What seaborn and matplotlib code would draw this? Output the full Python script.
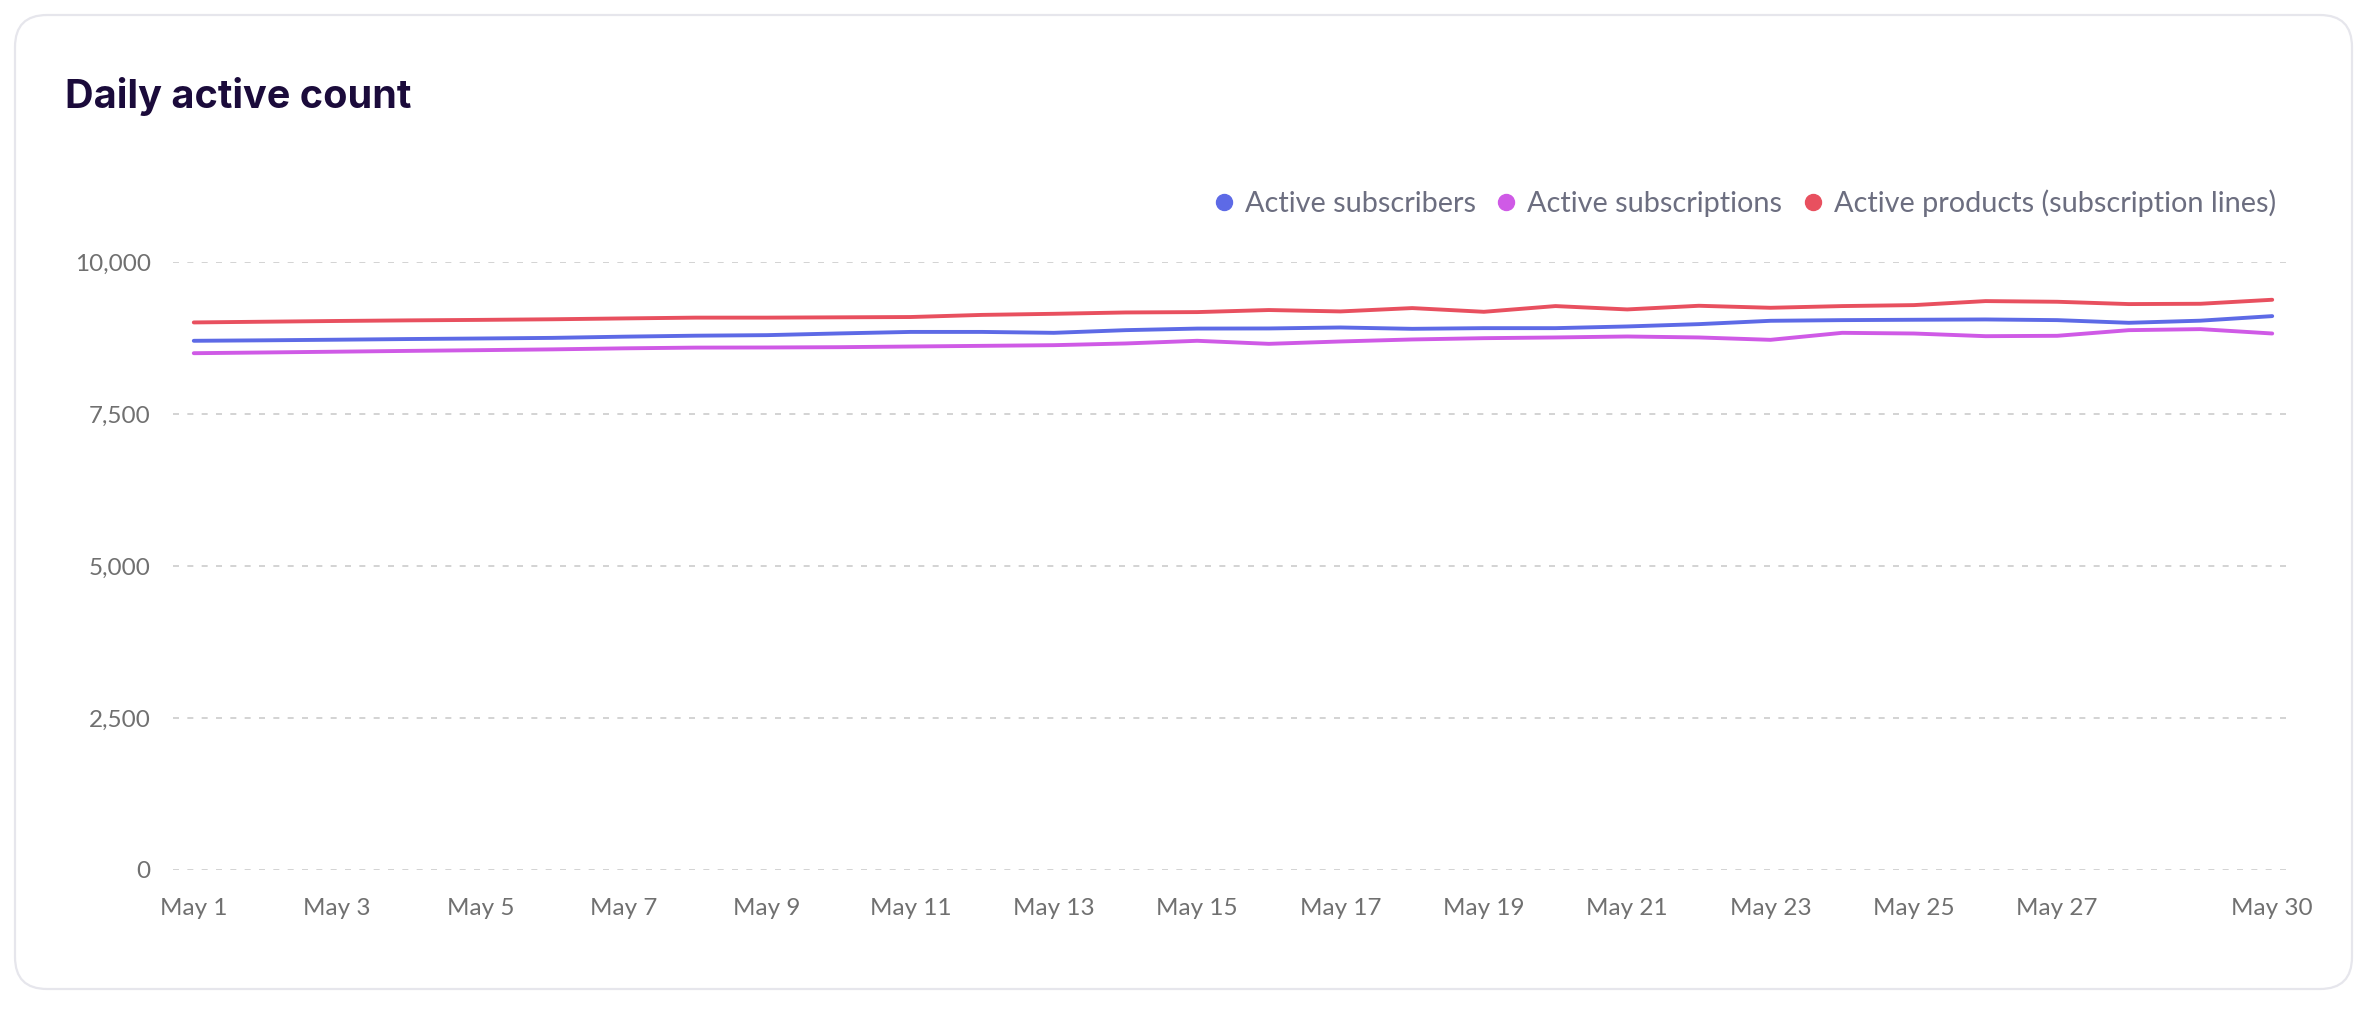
import numpy as np
import pandas as pd
import matplotlib
matplotlib.use("Agg")
import matplotlib.pyplot as plt
from matplotlib.lines import Line2D
from matplotlib.patches import FancyBboxPatch
import seaborn as sns

# data (May 1 .. May 30)
days = list(range(1, 31))
subscribers = [8704, 8712, 8722, 8733, 8742, 8752, 8772, 8788, 8797, 8825,
               8850, 8850, 8835, 8879, 8905, 8907, 8923, 8901, 8912, 8912,
               8940, 8978, 9033, 9044, 9050, 9055, 9044, 9000, 9035, 9110]
subscriptions = [8500, 8512, 8525, 8538, 8550, 8563, 8580, 8592, 8594, 8599,
                 8610, 8621, 8632, 8660, 8704, 8654, 8693, 8726, 8747, 8759,
                 8775, 8759, 8720, 8835, 8824, 8780, 8786, 8879, 8896, 8824]
products = [9006, 9018, 9030, 9040, 9048, 9058, 9072, 9085, 9085, 9090,
            9095, 9130, 9148, 9170, 9176, 9210, 9187, 9242, 9181, 9275,
            9220, 9280, 9247, 9275, 9291, 9357, 9346, 9308, 9313, 9379]

series_names = ["Active subscribers", "Active subscriptions",
                "Active products (subscription lines)"]
colors = ["#5D6AE6", "#CF5AE6", "#E8505F"]
tick_days = [1, 3, 5, 7, 9, 11, 13, 15, 17, 19, 21, 23, 25, 27, 30]
tick_labels = [f"May {d}" for d in tick_days]
y_ticks = [0, 2500, 5000, 7500, 10000]

df = pd.DataFrame({
    "day": days * 3,
    "value": subscribers + subscriptions + products,
    "series": np.repeat(series_names, len(days)),
})

sns.set_theme(style="white")
plt.rcParams["font.family"] = ["Lato", "DejaVu Sans"]

W, H, DPI = 2370, 1010, 100
fig = plt.figure(figsize=(W / DPI, H / DPI), dpi=DPI)
fig.patch.set_facecolor("white")

# card background
card = FancyBboxPatch((15, 21), 2337, 974, boxstyle="round,pad=0,rounding_size=32",
                      transform=None, facecolor="white", edgecolor="#E6E6EC",
                      linewidth=1.6, zorder=0)
fig.add_artist(card)

ax = fig.add_axes([173 / W, 1 - 870 / H, (2293 - 173) / W, (870 - 262) / H])
ax.set_facecolor("none")

sns.lineplot(data=df, x="day", y="value", hue="series", hue_order=series_names,
             palette=colors, linewidth=2.8, ax=ax, legend=False, zorder=3)

ax.set_xlim(1 - 0.29, 30 + 0.29)
ax.set_ylim(0, 10000)
ax.set_xticks(tick_days)
ax.set_xticklabels(tick_labels)
ax.set_yticks(y_ticks)
ax.set_yticklabels([f"{v:,}" for v in y_ticks])
ax.set_xlabel("")
ax.set_ylabel("")
for s in ax.spines.values():
    s.set_visible(False)
ax.tick_params(axis="both", length=0, labelsize=17.5, labelcolor="#707070")
ax.tick_params(axis="y", pad=16)
ax.tick_params(axis="x", pad=20)
ax.yaxis.grid(True, color="#CCCCCC", linewidth=1.2, linestyle=(0, (3.6, 5.0)))
ax.xaxis.grid(False)

fig.text(65 / W, 1 - 108 / H, "Daily active count", fontsize=28.5, fontweight="bold",
         color="#1B0B3B", family=["Inter", "DejaVu Sans"], va="baseline", ha="left")

handles = [Line2D([], [], marker="o", linestyle="", color=c, markersize=11.5)
           for c in colors]
fig.legend(handles, series_names, loc="center right", ncol=3,
           bbox_to_anchor=(2276 / W, 1 - 203 / H), frameon=False,
           fontsize=20.8, labelcolor="#6C6E80", handlelength=0.56,
           handletextpad=0.45, columnspacing=0.77, borderpad=0, borderaxespad=0)

fig.savefig("out.png", dpi=DPI, facecolor="white")
